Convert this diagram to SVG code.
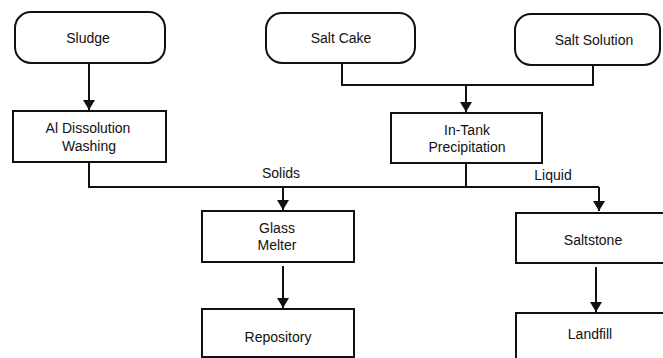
<svg xmlns="http://www.w3.org/2000/svg" width="663" height="358" viewBox="0 0 663 358">
<defs>
<style>
.box{fill:#fff;stroke:#111;stroke-width:2}
.t{font-family:"Liberation Sans",Arial,sans-serif;font-size:14px;fill:#111;text-anchor:middle}
.c{fill:none;stroke:#111;stroke-width:2}
</style>
<marker id="ah" markerUnits="userSpaceOnUse" markerWidth="10" markerHeight="12" refX="10" refY="6" orient="auto">
<path d="M0,0 L10,6 L0,12 z" fill="#111"/>
</marker>
</defs>
<rect width="663" height="358" fill="#fff"/>
<g id="connectors">
<path class="c" d="M89,64 V110" marker-end="url(#ah)"/>
<path class="c" d="M342,63 V85 H593 V65"/>
<path class="c" d="M466,85 V112" marker-end="url(#ah)"/>
<path class="c" d="M89,162 V187 H599"/>
<path class="c" d="M599,187 V211" marker-end="url(#ah)"/>
<path class="c" d="M466,163 V187"/>
<path class="c" d="M283,187 V210" marker-end="url(#ah)"/>
<path class="c" d="M283,266 V308" marker-end="url(#ah)"/>
<path class="c" d="M596,267 V312" marker-end="url(#ah)"/>
<text class="t" x="281" y="178">Solids</text>
<text class="t" x="553" y="180">Liquid</text>
</g>
<g id="sludge">
<rect class="box" x="15" y="12" width="150" height="51" rx="16"/>
<text class="t" x="88" y="43">Sludge</text>
</g>
<g id="saltcake">
<rect class="box" x="266" y="13" width="149" height="50" rx="16"/>
<text class="t" x="341" y="43">Salt Cake</text>
</g>
<g id="saltsolution">
<rect class="box" x="515" y="14" width="145" height="51" rx="16"/>
<text class="t" x="594" y="45">Salt Solution</text>
</g>
<g id="aldissolution">
<rect class="box" x="13" y="111" width="153" height="51"/>
<text class="t" x="88" y="133">Al Dissolution</text>
<text class="t" x="89" y="151">Washing</text>
</g>
<g id="intank">
<rect class="box" x="391" y="113" width="151" height="50"/>
<text class="t" x="467" y="135">In-Tank</text>
<text class="t" x="467" y="152">Precipitation</text>
</g>
<g id="glassmelter">
<rect class="box" x="202" y="211" width="152" height="51"/>
<text class="t" x="277" y="233">Glass</text>
<text class="t" x="277" y="250">Melter</text>
</g>
<g id="saltstone">
<rect class="box" x="516" y="213" width="155" height="50"/>
<text class="t" x="593" y="245">Saltstone</text>
</g>
<g id="repository">
<rect class="box" x="202" y="309" width="152" height="48"/>
<text class="t" x="278" y="342">Repository</text>
</g>
<g id="landfill">
<rect class="box" x="516" y="313" width="155" height="48"/>
<text class="t" x="590" y="339">Landfill</text>
</g>
</svg>
